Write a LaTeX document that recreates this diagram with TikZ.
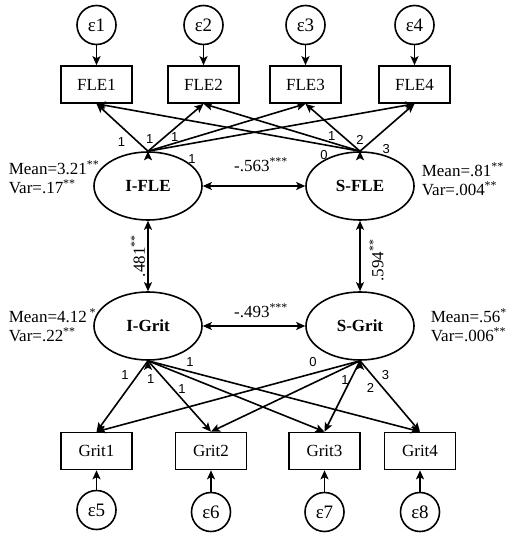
\documentclass[tikz,border=0pt]{standalone}
\usepackage{fontspec}
\setmainfont{Liberation Serif}
\newfontfamily\loadfont{Liberation Sans}
\usetikzlibrary{shapes.geometric,arrows.meta}

\tikzset{
  err/.style={circle, draw, minimum size=39pt, inner sep=0pt, font=\fontsize{19}{21}\selectfont},
  ind/.style={rectangle, draw, minimum width=71pt, minimum height=37pt, inner sep=0pt},
  lat/.style={ellipse, draw, minimum width=108pt, minimum height=68pt, inner sep=0pt, font=\fontsize{17}{19}\selectfont\bfseries},
  load/.style={font=\fontsize{13}{15}\selectfont\loadfont, inner sep=1pt},
  stat/.style={anchor=west, align=left, inner sep=0pt},
  arr/.style={-{Stealth[length=9pt, width=8pt, inset=2pt]}},
  dbl/.style={{Stealth[length=9pt, width=8pt, inset=2pt]}-{Stealth[length=9pt, width=8pt, inset=2pt]}}
}

\begin{document}
\begin{tikzpicture}[x=1pt, y=-1pt, line width=1.6pt, font=\fontsize{17}{19}\selectfont]
    \useasboundingbox (0, 0) rectangle (510, 537);
    \node [err] (e1) at (96.5, 25) {ε1};
    \node [err] (e2) at (203.5, 25) {ε2};
    \node [err] (e3) at (305.5, 25) {ε3};
    \node [err] (e4) at (414.5, 25) {ε4};
    \node [ind] (fle1) at (96.5, 84.5) {FLE1};
    \node [ind] (fle2) at (203.5, 84.5) {FLE2};
    \node [ind] (fle3) at (305.5, 84.5) {FLE3};
    \node [ind] (fle4) at (414.5, 84.5) {FLE4};
    \node [lat] (ifle) at (148, 186) {I-FLE};
    \node [lat] (sfle) at (360, 186) {S-FLE};
    \node [lat] (igrit) at (148, 326) {I-Grit};
    \node [lat] (sgrit) at (360, 326) {S-Grit};
    \node [ind] (grit1) at (96.5, 451) {Grit1};
    \node [ind] (grit2) at (211, 451) {Grit2};
    \node [ind] (grit3) at (324.5, 451) {Grit3};
    \node [ind] (grit4) at (420, 451) {Grit4};
    \node [err] (e5) at (96.5, 510) {ε5};
    \node [err] (e6) at (211, 512) {ε6};
    \node [err] (e7) at (324.5, 512) {ε7};
    \node [err] (e8) at (420, 512) {ε8};
    \node [stat] (mifle) at (8, 177) {Mean=3.21\textsuperscript{**}\\Var=.17\textsuperscript{**}};
    \node [stat] (msfle) at (421, 179) {Mean=.81\textsuperscript{**}\\Var=.004\textsuperscript{**}};
    \node [stat] (migrit) at (8, 325) {Mean=4.12\,\textsuperscript{*}\\Var=.22\textsuperscript{**}};
    \node [stat] (msgrit) at (430, 325) {Mean=.56\textsuperscript{*}\\Var=.006\textsuperscript{**}};
    \draw [arr] (e1) edge (fle1) (e2) edge (fle2) (e3) edge (fle3) (e4) edge (fle4);
    \draw [arr] (e5) edge (grit1) (e6) edge (grit2) (e7) edge (grit3) (e8) edge (grit4);
    \draw [arr] (ifle.north) edge node [load, pos=0.37, below left=2pt] {1} (fle1.south)
        edge node [load, pos=0.13, above left] {1} (fle2.south)
        edge node [load, pos=0.17, above] {1} (fle3.south)
        edge node [load, pos=0.165, below=9pt] {1} (fle4.south);
    \draw [arr] (sfle.north) edge node [load, pos=0.137, below=4pt] {0} (fle1.south)
        edge node [load, pos=0.18, above] {1} (fle2.south)
        edge node [load, pos=0.1, above right] {2} (fle3.south)
        edge node [load, pos=0.29, below right=5pt] {3} (fle4.south);
    \draw [arr] (igrit.south) edge node [load, pos=0.314, above left=1.5pt] {1} (grit1.north)
        edge node [load, pos=0.154, below left=1.5pt] {1} (grit2.north)
        edge node [load, pos=0.193, below=8pt] {1} (grit3.north)
        edge node [load, pos=0.154, above=3.5pt] {1} (grit4.north);
    \draw [arr] (sgrit.south) edge node [load, pos=0.178, above=5pt] {0} (grit1.north)
        edge node [load, pos=0.1, below=6pt] {1} (grit2.north)
        edge node [load, pos=0.389, right=19pt] {2} (grit3.north)
        edge node [load, pos=0.309, above right=1.5pt] {3} (grit4.north);
    \draw [dbl] (ifle) -- node [above=13pt, inner sep=0pt, xshift=7pt] {-.563\textsuperscript{***}} (sfle);
    \draw [dbl] (igrit) -- node [above=7pt, inner sep=0pt, xshift=7pt] {-.493\textsuperscript{***}} (sgrit);
    \draw [dbl] (ifle) -- node [midway, rotate=90, anchor=south, inner sep=2pt] {.481\textsuperscript{**}} (igrit);
    \draw [dbl] (sfle) -- node [pos=0.56, rotate=90, anchor=north, inner sep=8.5pt] {.594\textsuperscript{**}} (sgrit);
\end{tikzpicture}
\end{document}
